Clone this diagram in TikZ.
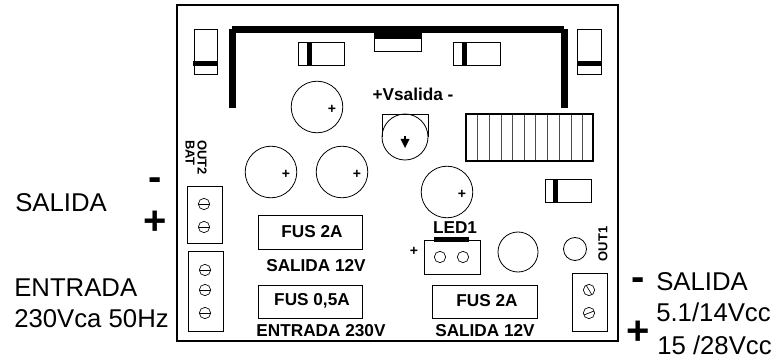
\documentclass[tikz,border=0pt]{standalone}
\usepackage{fontspec}
\setmainfont{Liberation Sans}
\usepackage{tikz}
\usetikzlibrary{positioning}
\tikzset{
    part/.style={
      draw=black,
      line width=0.6pt,
      fill=white
    },
    band/.style={
      fill=black,
      draw=none
    },
    screw/.style={
      circle,
      draw=black,
      line width=0.5pt,
      minimum size=8.5pt,
      inner sep=0pt
    },
    tiny label/.style={font=\bfseries\fontsize{9.7pt}{10pt}\selectfont,inner sep=0pt},
    plus label/.style={font=\bfseries\fontsize{10.5pt}{11pt}\selectfont,inner sep=0pt},
    board label/.style={font=\bfseries\fontsize{12.9pt}{14pt}\selectfont,inner sep=0pt},
    side label/.style={font=\fontsize{19.3pt}{21pt}\selectfont,inner sep=0pt,anchor=west},
    sign label/.style={font=\bfseries\fontsize{30pt}{30pt}\selectfont,inner sep=0pt},
}

\begin{document}
\begin{tikzpicture}[x=0.75pt,y=-0.75pt]

    \useasboundingbox (0,0) rectangle (776,360);

    \draw[line width=0.8pt] (177,5) rectangle (618,341);

    \begin{scope}
      \fill (232,26) rectangle (564,33);
      \fill (229,29) rectangle (236,108);
      \fill (561,29) rectangle (568,108);

      \draw[part] (194,29) rectangle (217,74);
      \fill[band] (193,61) rectangle (217,66);
      \draw[part] (577,29) rectangle (601,74);
      \fill[band] (577,61) rectangle (601,66);

      \draw[part] (298,42) rectangle (344,65);
      \fill[band] (307,42) rectangle (312,65);
      \draw[part] (453,42) rectangle (500,65);
      \fill[band] (462,42) rectangle (467,65);
      \draw[part] (545,179) rectangle (591,202);
      \fill[band] (553,179) rectangle (558,202);

      \draw[part] (374,33) rectangle (421,51);
      \fill[band] (374,33) rectangle (421,39);
    \end{scope}

    \begin{scope}
      \foreach \x/\y in {317/107,271/172,342/172,447/192} {
        \draw[line width=0.6pt] (\x,\y) circle (25.8);
        \node[plus label] at (\x+15,\y+2) {+};
      }
      \draw[line width=0.6pt] (518,252) circle (20);
      \draw[line width=0.6pt] (575,249) circle (11.5);
    \end{scope}

    \begin{scope}
      \draw[line width=0.6pt] (382,137) -- (382,114) -- (428,114) -- (428,137);
      \draw[line width=0.6pt] (405,137) circle (23);
      \fill (400.5,139) -- (409.5,139) -- (405,148) -- cycle;
      \draw[line width=1pt] (405,136) -- (405,140);
    \end{scope}

    \begin{scope}
      \foreach \x in {477,489,501,512,524,535,547,559,571,582} {
        \draw[line width=0.6pt,black!70] (\x,113) -- (\x,162);
      }
      \draw[line width=1.2pt] (466,114) rectangle (593,161);
    \end{scope}

    \begin{scope}
      \draw[part] (187,186) rectangle (222,243);
      \foreach \y in {204,227} {
        \node[screw] at (204,\y) {};
        \draw[line width=0.5pt] (198.5,\y) -- (209.5,\y);
      }

      \draw[part] (188,251) rectangle (223,331);
      \foreach \y in {270,290,313} {
        \node[screw] at (205,\y) {};
        \draw[line width=0.5pt] (199.5,\y) -- (210.5,\y);
      }

      \draw[part] (572,273) rectangle (607,331);
      \node[screw] at (589,290) {};
      \draw[line width=0.5pt] (586,285) -- (592,295);
      \node[screw] at (589,313) {};
      \draw[line width=0.5pt] (584,315) -- (594,311);
    \end{scope}

    \begin{scope}
      \draw[part] (424,240) rectangle (480,274);
      \fill[band] (434,237) rectangle (469,242);
      \node[screw] at (440,257) {};
      \node[screw] at (463,257) {};
    \end{scope}

    \draw[part] (258,215) rectangle (362,249);
    \draw[part] (258,285) rectangle (362,318);
    \draw[part] (432,285) rectangle (537,318);

    \node[board label] at (312,232) (fusA) {FUS 2A};
    \node[board label] at (312,301) (fusB) {FUS 0,5A};
    \node[board label] at (487,301) (fusC) {FUS 2A};
    \node[board label] at (316,266) (salA) {SALIDA 12V};
    \node[board label] at (321,331) (entA) {ENTRADA 230V};
    \node[board label] at (485,331) (salB) {SALIDA 12V};
    \node[board label] at (413,94) (vsal) {+Vsalida -};
    \node[board label] at (455,228) (led) {LED1};
    \node[plus label] at (414,251) (ledp) {+};

    \node[tiny label,rotate=-90,anchor=west] at (202,140) (outb) {OUT2};
    \node[tiny label,rotate=-90,anchor=west] at (190,140) (bat) {BAT};
    \node[tiny label,rotate=90] at (603,244) (outa) {OUT1};

    \node[side label] at (15,203) (sal) {SALIDA};
    \node[side label] at (14,288) (ent) {ENTRADA};
    \node[side label] at (14,319) (volt) {230Vca 50Hz};
    \node[side label] at (656,282) (salr) {SALIDA};
    \node[side label] at (656,312) (vlo) {5.1/14Vcc};
    \node[side label] at (657,345) (vhi) {15 /28Vcc};

    \node[sign label] at (155,184) (minl) {-};
    \node[sign label] at (155,223) (plul) {+};
    \node[sign label] at (638,284) (minr) {-};
    \node[sign label] at (638,333) (plur) {+};

\end{tikzpicture}
\end{document}
